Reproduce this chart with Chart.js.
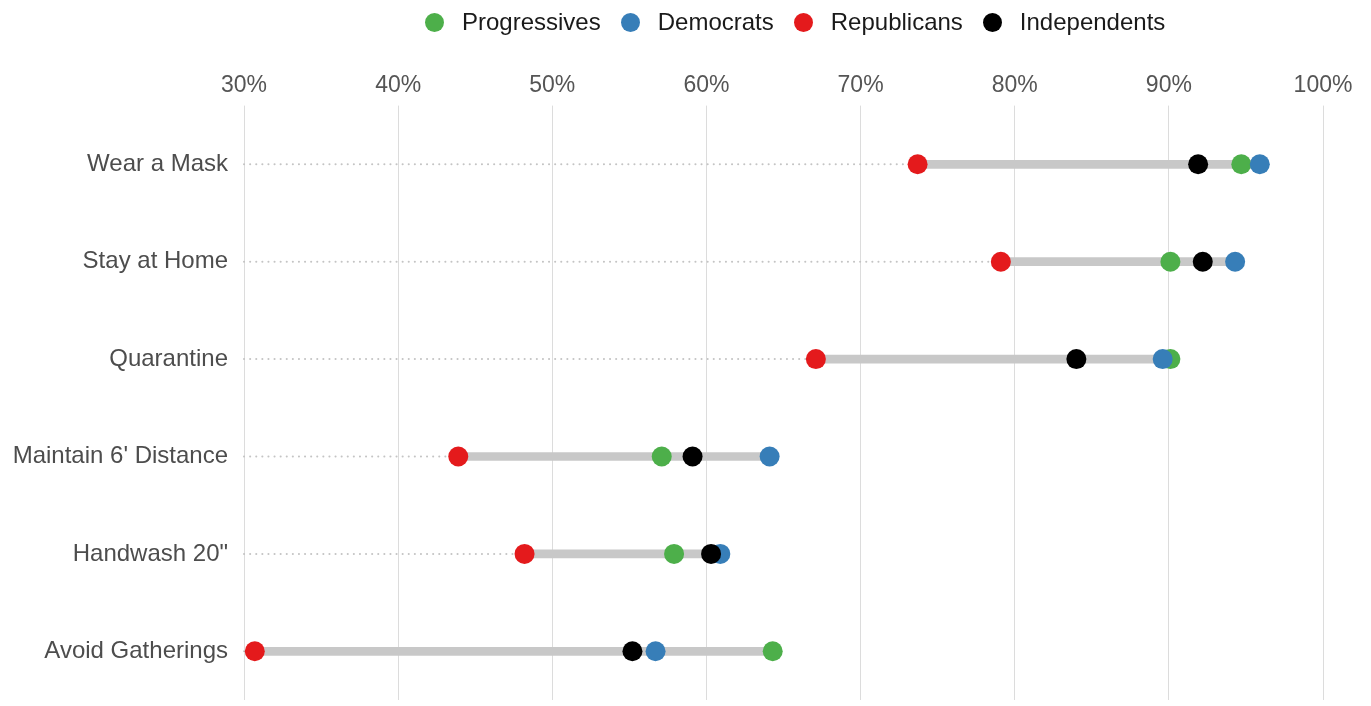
<!DOCTYPE html>
<html>
<head>
<meta charset="utf-8">
<script src="https://cdn.jsdelivr.net/npm/chart.js@4"></script>
<style>
  html, body { margin: 0; padding: 0; background: #fff; }
  #wrap { position: relative; width: 1371px; height: 706px; }
  #legend {
    position: absolute; top: 8px; left: 425px;
    display: flex; align-items: center;
    font-family: "Liberation Sans", Arial, sans-serif; font-size: 24px; color: #1a1a1a;
  }
  #legend span.item { display: flex; align-items: center; margin-right: 20px; }
  #legend span.dot { width: 19px; height: 19px; border-radius: 50%; margin-right: 18px; display: inline-block; }
</style>
</head>
<body>
<div id="wrap">
  <div id="legend"></div>
  <canvas id="dotChart" width="1371" height="706"></canvas>
</div>
<script>
const categories = ['Wear a Mask', 'Stay at Home', 'Quarantine', "Maintain 6' Distance", 'Handwash 20"', 'Avoid Gatherings'];
const progressives = [94.7, 90.1, 90.1, 57.1, 57.9, 64.3];
const democrats    = [95.9, 94.3, 89.6, 64.1, 60.9, 56.7];
const republicans  = [73.7, 79.1, 67.1, 43.9, 48.2, 30.7];
const independents = [91.9, 92.2, 84.0, 59.1, 60.3, 55.2];
const xTicks = [30, 40, 50, 60, 70, 80, 90, 100];

const series = [
  { name: 'Progressives', values: progressives, color: '#4daf4a', order: 4 },
  { name: 'Democrats', values: democrats, color: '#377eb8', order: 3 },
  { name: 'Republicans', values: republicans, color: '#e41a1c', order: 2 },
  { name: 'Independents', values: independents, color: '#000000', order: 1 }
];

// range bar from lowest to highest party per category
const ranges = categories.map((c, i) => {
  const v = series.map(s => s.values[i]);
  return [Math.min(...v), Math.max(...v)];
});

const legendEl = document.getElementById('legend');
series.forEach(s => {
  const item = document.createElement('span');
  item.className = 'item';
  item.innerHTML = '<span class="dot" style="background:' + s.color + '"></span>' + s.name;
  legendEl.appendChild(item);
});

// dotted guide from the axis start to the first dot
const dottedGuides = {
  id: 'dottedGuides',
  beforeDatasetsDraw(chart) {
    const { ctx, scales: { x, y } } = chart;
    ctx.save();
    ctx.strokeStyle = '#c4c4c4';
    ctx.lineWidth = 2;
    ctx.setLineDash([0.1, 6]);
    ctx.lineCap = 'round';
    categories.forEach((c, i) => {
      const py = y.getPixelForValue(i);
      ctx.beginPath();
      ctx.moveTo(x.getPixelForValue(xTicks[0]), py);
      ctx.lineTo(x.getPixelForValue(ranges[i][0]), py);
      ctx.stroke();
    });
    ctx.restore();
  }
};

const datasets = [{
  type: 'bar',
  label: 'range',
  data: ranges,
  backgroundColor: '#c8c8c8',
  barThickness: 8,
  order: 5
}];
series.forEach(s => {
  datasets.push({
    type: 'line',
    label: s.name,
    data: s.values,
    showLine: false,
    pointRadius: 10,
    pointHoverRadius: 10,
    pointBackgroundColor: s.color,
    pointBorderWidth: 0,
    borderColor: s.color,
    order: s.order
  });
});

new Chart(document.getElementById('dotChart'), {
  data: { labels: categories, datasets: datasets },
  plugins: [dottedGuides],
  options: {
    indexAxis: 'y',
    responsive: false,
    animation: false,
    layout: { autoPadding: false, padding: { top: 66, right: 48, bottom: 6, left: 0 } },
    plugins: { legend: { display: false }, tooltip: { enabled: false } },
    scales: {
      x: {
        position: 'top',
        min: 30,
        max: 100,
        afterBuildTicks: (scale) => { scale.ticks = xTicks.map(v => ({ value: v })); },
        grid: { color: '#dcdcdc', lineWidth: 1, tickLength: 10, drawTicks: true },
        border: { display: false },
        ticks: {
          color: '#555555',
          padding: 6,
          font: { family: 'Liberation Sans', size: 23 },
          callback: v => v + '%'
        }
      },
      y: {
        grid: { display: false },
        border: { display: false },
        afterFit: (scale) => {
          scale.width = 244;
          scale.paddingTop = 0;
          scale.paddingBottom = 0;
        },
        ticks: {
          color: '#4d4d4d',
          padding: 8,
          font: { family: 'Liberation Sans', size: 24 }
        }
      }
    }
  }
});
</script>
</body>
</html>
